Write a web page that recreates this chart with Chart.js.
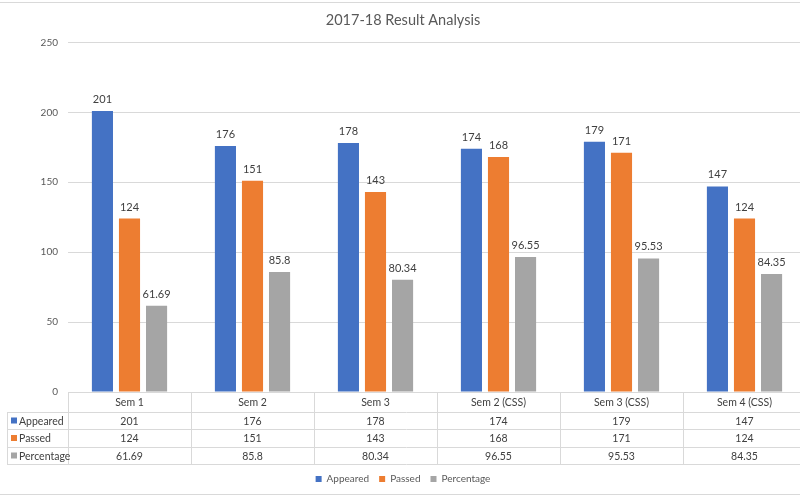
<!DOCTYPE html>
<html>
<head>
<meta charset="utf-8">
<script src="https://cdn.jsdelivr.net/npm/chart.js@4.4.1/dist/chart.umd.min.js"></script>
<style>
  html, body { margin: 0; padding: 0; background: #fff; overflow: hidden; }
  #wrap { width: 806px; height: 496px; }
</style>
</head>
<body>
<div id="wrap"><canvas id="grafik"></canvas></div>
<script>
const kategorije = ["Sem 1", "Sem 2", "Sem 3", "Sem 2 (CSS)", "Sem 3 (CSS)", "Sem 4 (CSS)"];
const pojavili = [201, 176, 178, 174, 179, 147];
const polozili = [124, 151, 143, 168, 171, 124];
const procenat = [61.69, 85.8, 80.34, 96.55, 95.53, 84.35];
const yTicks = [0, 50, 100, 150, 200, 250];

const boje = ["#4472C4", "#ED7D31", "#A5A5A5"];
const font = "Lato, 'Open Sans', sans-serif";
const linija = "#d9d9d9";

// oznake iznad stubaca + tabela podataka ispod osi
const tabelaPlugin = {
    id: "tabela",
    afterDatasetsDraw(chart) {
        const ctx = chart.ctx;
        ctx.save();
        ctx.font = "11px " + font;
        ctx.fillStyle = "#404040";
        ctx.textAlign = "center";
        ctx.textBaseline = "bottom";
        chart.data.datasets.forEach((ds, di) => {
            chart.getDatasetMeta(di).data.forEach((bar, i) => {
                ctx.fillText(String(ds.data[i]), bar.x, bar.y - 6);
            });
        });
        ctx.restore();
    },
    afterDraw(chart) {
        const ctx = chart.ctx;
        const area = chart.chartArea;
        const x = chart.scales.x;
        const n = kategorije.length;
        const w = (area.right - area.left) / n;
        const top = area.bottom;
        const redovi = [top, top + 20, top + 37, top + 55, top + 72];
        const lijevo = 7;

        ctx.save();
        ctx.strokeStyle = linija;
        ctx.lineWidth = 1;
        ctx.beginPath();
        // horizontalne
        ctx.moveTo(area.left, redovi[0] + 0.5);
        ctx.lineTo(area.right, redovi[0] + 0.5);
        for (let r = 1; r < redovi.length; r++) {
            ctx.moveTo(lijevo, redovi[r] + 0.5);
            ctx.lineTo(area.right, redovi[r] + 0.5);
        }
        // vertikalne
        for (let i = 0; i <= n; i++) {
            const px = Math.round(area.left + i * w) + 0.5;
            ctx.moveTo(px, redovi[0]);
            ctx.lineTo(px, redovi[4]);
        }
        ctx.moveTo(lijevo + 0.5, redovi[1]);
        ctx.lineTo(lijevo + 0.5, redovi[4]);
        // okvir grafika
        ctx.moveTo(0, 2.5);
        ctx.lineTo(chart.width, 2.5);
        ctx.moveTo(0, 494.5);
        ctx.lineTo(chart.width, 494.5);
        ctx.stroke();

        ctx.font = "10.5px " + font;
        ctx.fillStyle = "#404040";
        ctx.textBaseline = "middle";
        ctx.textAlign = "center";
        kategorije.forEach((k, i) => {
            const cx = x.getPixelForValue(i);
            ctx.fillText(k, cx, (redovi[0] + redovi[1]) / 2 + 1);
            chart.data.datasets.forEach((ds, di) => {
                ctx.fillText(String(ds.data[i]), cx, (redovi[di + 1] + redovi[di + 2]) / 2 + 1);
            });
        });
        ctx.textAlign = "left";
        chart.data.datasets.forEach((ds, di) => {
            const cy = (redovi[di + 1] + redovi[di + 2]) / 2;
            ctx.fillStyle = boje[di];
            ctx.fillRect(lijevo + 4, cy - 3, 6, 6);
            ctx.fillStyle = "#404040";
            ctx.fillText(ds.label, lijevo + 12, cy + 1);
        });
        ctx.restore();
    }
};

new Chart(document.getElementById("grafik").getContext("2d"), {
    type: "bar",
    data: {
        labels: kategorije,
        datasets: [
            { label: "Appeared", data: pojavili, backgroundColor: boje[0] },
            { label: "Passed", data: polozili, backgroundColor: boje[1] },
            { label: "Percentage", data: procenat, backgroundColor: boje[2] }
        ]
    },
    options: {
        responsive: true,
        maintainAspectRatio: false,
        animation: false,
        categoryPercentage: 0.66,
        barPercentage: 0.78,
        layout: { padding: { top: 0, bottom: 2, left: 0, right: 0 } },
        plugins: {
            title: {
                display: true,
                text: "2017-18 Result Analysis",
                color: "#595959",
                font: { family: font, size: 14.5, weight: "normal" },
                padding: { top: 12, bottom: 13 }
            },
            legend: {
                position: "bottom",
                labels: {
                    boxWidth: 6,
                    boxHeight: 6,
                    padding: 10,
                    color: "#595959",
                    font: { family: font, size: 10 }
                }
            },
            tooltip: { enabled: false }
        },
        scales: {
            x: {
                ticks: { display: false },
                grid: { display: false },
                border: { display: false },
                afterFit(scale) { scale.height = 72; }
            },
            y: {
                min: 0,
                max: 250,
                afterBuildTicks(scale) { scale.ticks = yTicks.map(v => ({ value: v })); },
                ticks: {
                    color: "#595959",
                    padding: 10,
                    font: { family: font, size: 10 }
                },
                grid: { color: linija, drawTicks: false },
                border: { display: false },
                afterFit(scale) { scale.width = 68; }
            }
        }
    },
    plugins: [tabelaPlugin]
});
</script>
</body>
</html>
